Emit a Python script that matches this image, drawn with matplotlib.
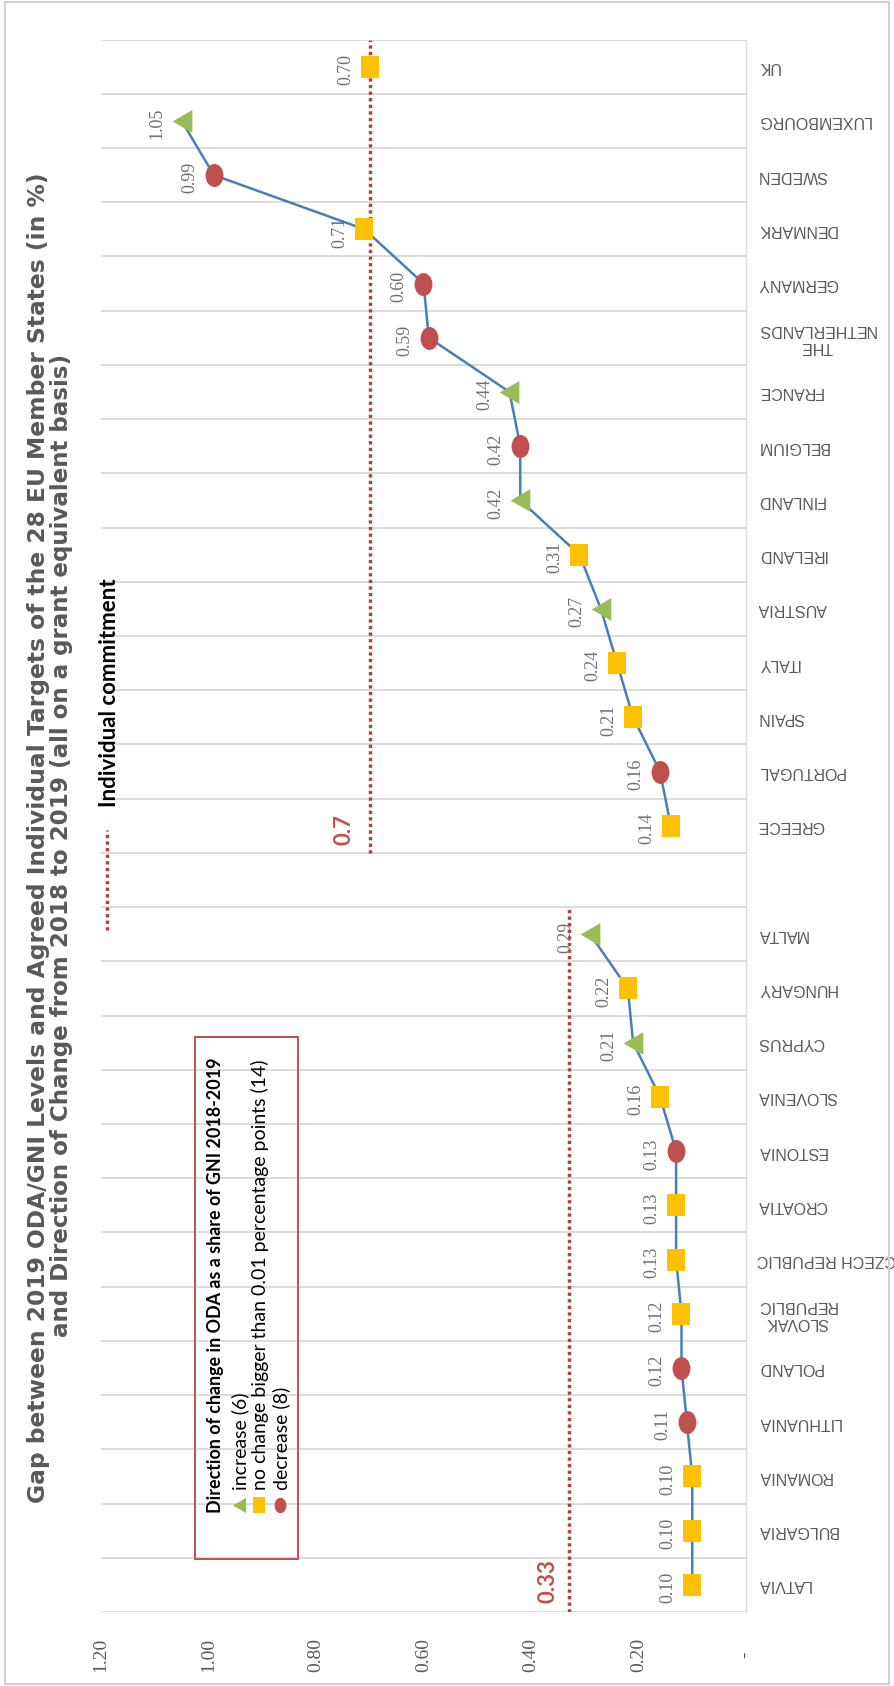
import numpy as np
import matplotlib
matplotlib.use("Agg")
import matplotlib.pyplot as plt
from matplotlib.path import Path
from matplotlib.patches import Rectangle
from matplotlib.lines import Line2D
from matplotlib.transforms import Affine2D

# ---------------------------------------------------------------- data
# EU-13 (member states that joined in 2004 or later), collective target 0.33 %
eu13_countries = ["LATVIA", "BULGARIA", "ROMANIA", "LITHUANIA", "POLAND",
                  "SLOVAK\nREPUBLIC", "CZECH REPUBLIC", "CROATIA", "ESTONIA",
                  "SLOVENIA", "CYPRUS", "HUNGARY", "MALTA"]
eu13_oda = [0.10, 0.10, 0.10, 0.11, 0.12, 0.12, 0.13, 0.13, 0.13,
            0.16, 0.21, 0.22, 0.29]
eu13_change = ["same", "same", "same", "down", "down", "same", "same",
               "same", "down", "same", "up", "same", "up"]
eu13_target = 0.33

# EU-15, individual target 0.7 %
eu15_countries = ["GREECE", "PORTUGAL", "SPAIN", "ITALY", "AUSTRIA",
                  "IRELAND", "FINLAND", "BELGIUM", "FRANCE",
                  "THE\nNETHERLANDS", "GERMANY", "DENMARK", "SWEDEN",
                  "LUXEMBOURG", "UK"]
eu15_oda = [0.14, 0.16, 0.21, 0.24, 0.27, 0.31, 0.42, 0.42, 0.44,
            0.59, 0.60, 0.71, 0.99, 1.05, 0.70]
eu15_change = ["same", "down", "same", "same", "up", "same", "up", "down",
               "up", "down", "down", "same", "down", "up", "same"]
eu15_target = 0.7
not_linked = ["UK"]          # plotted on its own, not joined to the line

value_ticks = [1.20, 1.00, 0.80, 0.60, 0.40, 0.20, 0.00]
value_tick_labels = ["1.20", "1.00", "0.80", "0.60", "0.40", "0.20", "-"]

legend_counts = {"up": 6, "same": 14, "down": 8}

# ---------------------------------------------------------------- styles
W, H, DPI = 895, 1686, 100
BLUE = "#4a7ebb"
TARGET_RED = "#b2413d"
GRID = "#d9d9d9"
GREY_TXT = "#595959"
LABEL_TXT = "#707070"

square_path = Path.unit_rectangle().transformed(
    Affine2D().translate(-0.5, -0.5).scale(0.78, 1.0))
ellipse_path = Path.unit_circle().transformed(Affine2D().scale(0.78, 1.0))
tri_left_path = Path([(-0.86, 0.0), (0.86, -1.0), (0.86, 1.0), (-0.86, 0.0)],
                     [Path.MOVETO, Path.LINETO, Path.LINETO, Path.CLOSEPOLY])

marker_style = {
    "up": dict(marker=tri_left_path, color="#9bbb59"),
    "same": dict(marker=square_path, color="#ffc000"),
    "down": dict(marker=ellipse_path, color="#c0504d"),
}

SERIF = ["Liberation Serif", "DejaVu Serif"]
CAT_FONT = ["Liberation Sans", "DejaVu Sans"]
SANS = ["Lato", "DejaVu Sans"]
TITLE_FONT = ["DejaVu Sans"]

# ---------------------------------------------------------------- layout
fig = plt.figure(figsize=(W / DPI, H / DPI), dpi=DPI)
ax_l, ax_r, ax_t, ax_b = 101, 746, 39.5, 1612
ax = fig.add_axes([ax_l / W, 1 - ax_b / H, (ax_r - ax_l) / W, (ax_b - ax_t) / H])

n13, n15 = len(eu13_countries), len(eu15_countries)
pos13 = np.arange(n13)
pos15 = np.arange(n15) + n13 + 1          # one empty slot between groups
n_slots = n13 + 1 + n15

ax.set_xlim(1.2, 0.0)
ax.set_ylim(-0.5, n_slots - 0.5)

# category separators
ax.hlines(np.arange(-0.5, n_slots), 1.2, 0.0, color=GRID, lw=1.3, zorder=0)

for side in ["left", "top", "bottom"]:
    ax.spines[side].set_visible(False)
ax.spines["right"].set_color(GRID)
ax.spines["right"].set_linewidth(1.0)

# target lines
ax.vlines(eu13_target, pos13[0] - 0.5, pos13[-1] + 0.5, color=TARGET_RED,
          lw=2.5, linestyles=[(0, (0.95, 0.95))], zorder=1)
ax.vlines(eu15_target, pos15[0] - 0.5, pos15[-1] + 0.5, color=TARGET_RED,
          lw=2.5, linestyles=[(0, (0.95, 0.95))], zorder=1)

# connecting lines
ax.plot(eu13_oda, pos13, color=BLUE, lw=1.8, zorder=2)
linked = [i for i, c in enumerate(eu15_countries) if c not in not_linked]
ax.plot([eu15_oda[i] for i in linked], pos15[linked], color=BLUE, lw=1.8, zorder=2)

# markers and data labels
for vals, pos, chg in [(eu13_oda, pos13, eu13_change), (eu15_oda, pos15, eu15_change)]:
    for v, p, c in zip(vals, pos, chg):
        st = marker_style[c]
        ax.plot([v], [p], linestyle="none", marker=st["marker"], markersize=16.5,
                markerfacecolor=st["color"], markeredgecolor=st["color"],
                markeredgewidth=0, zorder=3)
        ax.annotate(f"{v:.2f}", (v, p), xytext=(-17.5, -2), textcoords="offset points",
                    rotation=90, ha="center", va="center", fontsize=13,
                    family=SERIF, color=LABEL_TXT, zorder=4)

# target labels
ax.annotate(f"{eu13_target:g}", (eu13_target, pos13[0] - 0.5), xytext=(-7, 6.5),
            textcoords="offset points", rotation=90, rotation_mode="anchor",
            ha="left", va="bottom", fontsize=16, fontweight="bold",
            family=SANS, color="#c0504d")
ax.annotate(f"{eu15_target:g}", (eu15_target, pos15[0] - 0.5), xytext=(-11, 6),
            textcoords="offset points", rotation=90, rotation_mode="anchor",
            ha="left", va="bottom", fontsize=16, fontweight="bold",
            family=SANS, color="#c0504d")

# value axis (bottom)
ax.set_xticks(value_ticks)
ax.set_xticklabels(value_tick_labels)
ax.tick_params(axis="x", length=0, pad=31)
for t in ax.get_xticklabels():
    t.set_rotation(90)
    t.set_ha("center")
    t.set_va("center")
    t.set_family(SERIF)
    t.set_fontsize(14)
    t.set_color(GREY_TXT)

# category axis (right)
cat_labels = [""] * n_slots
for p, c in zip(pos13, eu13_countries):
    cat_labels[p] = c
for p, c in zip(pos15, eu15_countries):
    cat_labels[p] = c
ax.yaxis.tick_right()
ax.set_yticks(np.arange(n_slots))
ax.set_yticklabels(cat_labels)
ax.tick_params(axis="y", length=0, pad=8)
for t in ax.get_yticklabels():
    t.set_rotation(180)
    t.set_ha("left")
    t.set_va("center")
    t.set_multialignment("center")
    t.set_family(CAT_FONT)
    t.set_fontsize(11.5)
    t.set_color(GREY_TXT)
    t.set_linespacing(1.15)

# ---------------------------------------------------------------- overlay (pixel coords)
ov = fig.add_axes([0, 0, 1, 1])
ov.set_xlim(0, W)
ov.set_ylim(H, 0)
ov.axis("off")

ov.add_patch(Rectangle((5, 2), 884, 1682, fill=False, edgecolor="#d0d0d0", lw=1.5))

renderer = fig.canvas.get_renderer()

def fit_length(txt, length_px):
    ext = txt.get_window_extent(renderer)
    txt.set_fontsize(txt.get_fontsize() * length_px / max(ext.width, ext.height))

title1 = ov.text(45, 838, "Gap between 2019 ODA/GNI Levels and Agreed Individual "
                 "Targets of the 28 EU Member States (in %)",
                 rotation=90, rotation_mode="anchor", ha="center", va="baseline",
                 fontsize=15, fontweight="bold", family=TITLE_FONT, color=GREY_TXT)
title2 = ov.text(68, 845, "and Direction of Change from 2018 to 2019 "
                 "(all on a grant equivalent basis)",
                 rotation=90, rotation_mode="anchor", ha="center", va="baseline",
                 fontsize=15, fontweight="bold", family=TITLE_FONT, color=GREY_TXT)
fit_length(title1, 1330)
fit_length(title2, 986)

# individual commitment key
ov.add_line(Line2D([107, 107], [930, 830], color=TARGET_RED, lw=2.5,
                   linestyle=(0, (0.95, 0.95))))
ic = ov.text(110, 807, "Individual commitment", rotation=90, rotation_mode="anchor",
             ha="left", va="center", fontsize=12, fontweight="bold",
             family=SANS, color="black")
fit_length(ic, 227)

# direction-of-change key
ov.add_patch(Rectangle((195, 1037), 103, 522, fill=False, edgecolor="#c0504d", lw=1.4))
lt = ov.text(216, 1513, "Direction of change in ODA as a share of GNI 2018-2019",
             rotation=90, rotation_mode="anchor", ha="left", va="center",
             fontsize=12, fontweight="bold", family=SANS, color="black")
fit_length(lt, 451)

key_rows = [("up", f"increase ({legend_counts['up']})", 240),
            ("same", f"no change bigger than 0.01 percentage points ({legend_counts['same']})", 260),
            ("down", f"decrease ({legend_counts['down']})", 281)]
entry_txts = []
for key, label, xr in key_rows:
    st = marker_style[key]
    ov.plot([xr - 1], [1505], linestyle="none", marker=st["marker"], markersize=11,
            markerfacecolor=st["color"], markeredgewidth=0)
    entry_txts.append(ov.text(xr, 1490, label, rotation=90, rotation_mode="anchor",
                              ha="left", va="center", fontsize=12,
                              family=SANS, color="black"))
fit_length(entry_txts[1], 430)
for t in entry_txts:
    t.set_fontsize(entry_txts[1].get_fontsize())

fig.savefig("out.png", dpi=DPI)
